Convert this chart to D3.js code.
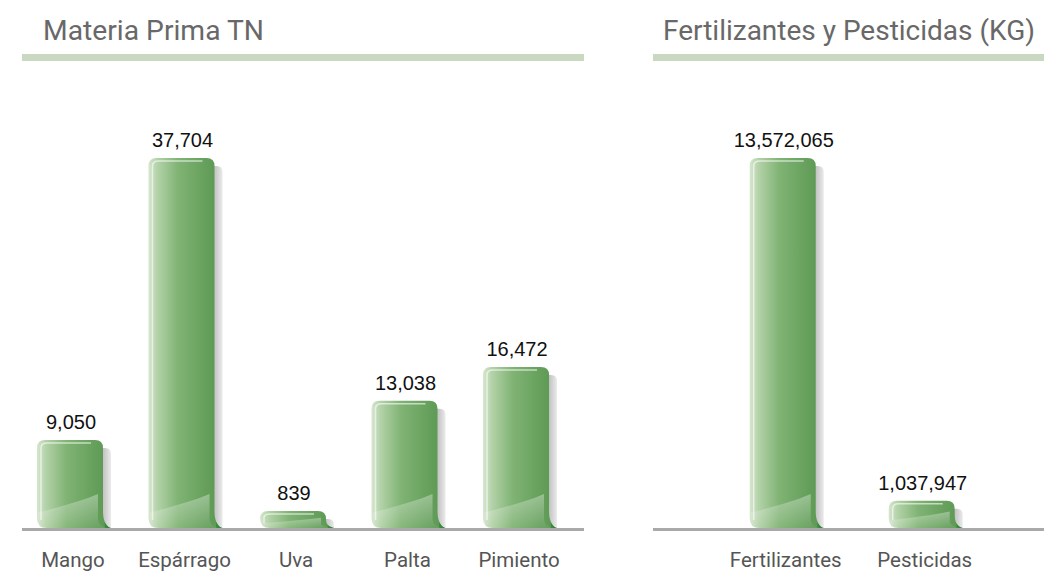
<!DOCTYPE html>
<html><head><meta charset="utf-8">
<script src="https://cdn.jsdelivr.net/npm/d3@7"></script>
<style>body{margin:0;background:#fff}svg{display:block}</style>
</head><body>
<script>
const leftTitle = "Materia Prima TN";
const leftCategories = ["Mango","Espárrago","Uva","Palta","Pimiento"];
const leftValues = [9050, 37704, 839, 13038, 16472];
const rightTitle = "Fertilizantes y Pesticidas (KG)";
const rightCategories = ["Fertilizantes","Pesticidas"];
const rightValues = [13572065, 1037947];

const W = 1044, H = 573;
const svg = d3.select("body").append("svg").attr("width", W).attr("height", H);
const defs = svg.append("defs");

const body = defs.append("linearGradient").attr("id","gBody").attr("x1",0).attr("x2",1).attr("y1",0).attr("y2",0);
[[0,"#d6e6cf"],[0.12,"#b3d2a8"],[0.4,"#80b374"],[0.75,"#67a15d"],[0.91,"#5e9a55"],[0.92,"#3a8b3d"],[1,"#2b8033"]]
  .forEach(([o,c])=>body.append("stop").attr("offset",o).attr("stop-color",c));
const shadow = defs.append("linearGradient").attr("id","gShadow").attr("x1",0).attr("x2",1).attr("y1",0).attr("y2",0);
[[0,"#b3b3b3"],[0.5,"#cccccc"],[1,"#ebebeb"]].forEach(([o,c])=>shadow.append("stop").attr("offset",o).attr("stop-color",c));
const refl = defs.append("linearGradient").attr("id","gRefl").attr("x1",0).attr("x2",0).attr("y1",0).attr("y2",1);
[[0,"#ffffff",0.35],[1,"#ffffff",0.05]].forEach(([o,c,a])=>refl.append("stop").attr("offset",o).attr("stop-color",c).attr("stop-opacity",a));

const baseY = 529;

function panel(cfg){
  const g = svg.append("g");
  g.append("text").text(cfg.title).attr("x", cfg.titleX).attr("y", 40)
    .attr("font-family","Roboto, 'Open Sans', sans-serif").attr("font-size",28)
    .attr("fill","#686868").attr("textLength", cfg.titleLen).attr("lengthAdjust","spacingAndGlyphs");
  g.append("rect").attr("x", cfg.x0).attr("y", 54).attr("width", cfg.x1 - cfg.x0).attr("height", 7).attr("fill","#c9d8c0");

  const x = d3.scaleBand().domain(cfg.categories).range([cfg.x0, cfg.x1])
    .paddingInner(cfg.pi).paddingOuter(cfg.po).align(cfg.align);
  const y = d3.scaleLinear().domain([0, d3.max(cfg.values)]).range([baseY, 158]);

  g.append("line").attr("x1", cfg.x0).attr("x2", cfg.x1).attr("y1", baseY+0.5).attr("y2", baseY+0.5)
    .attr("stroke","#a9a9a9").attr("stroke-width",3);

  const data = cfg.categories.map((c,i)=>({c, v: cfg.values[i]}));
  const bars = g.selectAll("g.bar").data(data).join("g").attr("class","bar");
  bars.each(function(d){
    const gg = d3.select(this);
    const x0 = x(d.c), x1 = x0 + x.bandwidth();
    const cx = (x0 + x1) / 2;
    const b = baseY - 1;
    let t = Math.min(y(d.v), b - 17);
    const h = b - t;
    const r = Math.min(8, h/2);
    const curl = Math.min(16, h*0.45);
    gg.append("path").attr("fill","url(#gShadow)")
      .attr("d", `M${x1-4},${t+8} L${x1+2},${t+8} Q${x1+8},${t+8} ${x1+8},${t+14} L${x1+8},${b} L${x1-4},${b} Z`);
    gg.append("path").attr("fill","url(#gBody)")
      .attr("d", `M${x0},${t+r} Q${x0},${t} ${x0+r},${t} L${x1-r},${t} Q${x1},${t} ${x1},${t+r}
                  L${x1},${b-curl} C${x1},${b-curl*0.3} ${x1+5},${b-1} ${x1+8},${b}
                  L${x0+r+2},${b} Q${x0},${b} ${x0},${b-r-2} Z`);
    const rt = Math.min(34, h*0.6);
    gg.append("path").attr("fill","url(#gRefl)")
      .attr("d", `M${x0+1},${b-rt*0.45} C${x0+20},${b-rt*0.6} ${x1-20},${b-rt*0.8} ${x1-5},${b-rt}
                  L${x1-5},${b-curl*0.5} C${x1-4},${b-2} ${x1+1},${b-1} ${x1+4},${b}
                  L${x0+r+2},${b} Q${x0+1},${b} ${x0+1},${b-r-2} Z`);
    gg.append("path").attr("fill","none").attr("stroke","#ffffff").attr("stroke-opacity",0.6).attr("stroke-width",1.5)
      .attr("d", `M${x0+4},${b-Math.min(8,h*0.3)} L${x0+4},${t+Math.min(8,h*0.4)} Q${x0+4},${t+3} ${x0+10},${t+3} L${x1-12},${t+3}`);
    gg.append("text").text(d3.format(",")(d.v)).attr("x", cx + 1).attr("y", t - 11)
      .attr("text-anchor","middle").attr("font-family","'Liberation Sans', Arial, sans-serif")
      .attr("font-size",20).attr("fill","#111");
  });

  const ax = g.append("g").attr("transform",`translate(3,${baseY})`)
    .call(d3.axisBottom(x).tickSize(0).tickPadding(23));
  ax.select(".domain").remove();
  ax.selectAll("text").attr("font-family","Roboto, 'Open Sans', sans-serif").attr("font-size",20.5).attr("fill","#555");
}

panel({title:leftTitle, titleX:43, titleLen:221, x0:22, x1:584, pi:0.408, po:0.224, align:0.3,
       categories:leftCategories, values:leftValues});
panel({title:rightTitle, titleX:663, titleLen:372, x0:653, x1:1044, pi:0.525, po:0.669, align:0.52,
       categories:rightCategories, values:rightValues});
</script>
</body></html>
